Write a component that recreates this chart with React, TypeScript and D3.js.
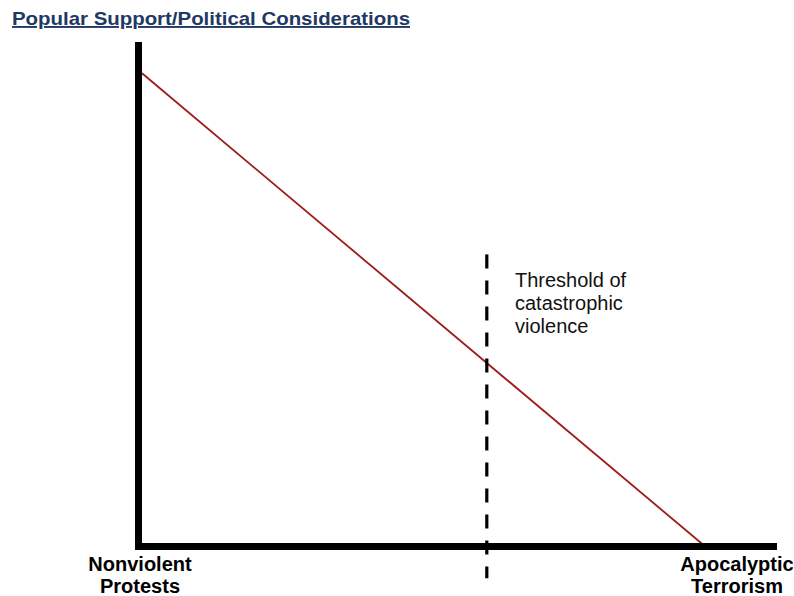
import React, { useEffect, useRef } from "react";
import * as d3 from "d3";

// spectrum end labels (left -> right)
const leftLabel: string[] = ["Nonviolent", "Protests"];
const rightLabel: string[] = ["Apocalyptic", "Terrorism"];
const thresholdLabel: string[] = ["Threshold of", "catastrophic", "violence"];

// support line: position on spectrum (0-100) vs popular support (0-100)
const supportX: number[] = [0, 88.7];
const supportY: number[] = [93.8, 0];

// threshold position and vertical extent
const thresholdX = 54.3;
const thresholdSpan: number[] = [-6.3, 57.9];

const title = "Popular Support/Political Considerations";

function App() {
  const ref = useRef<SVGSVGElement>(null);

  useEffect(() => {
    const width = 794;
    const height = 596;
    const svg = d3.select(ref.current).attr("width", width).attr("height", height);
    svg.selectAll("*").remove();

    const x = d3.scaleLinear().domain([0, 100]).range([142, 777]);
    const y = d3.scaleLinear().domain([0, 100]).range([546.5, 42]);

    const font = "Arial, 'Liberation Sans', sans-serif";

    // title
    svg
      .append("text")
      .attr("x", 12)
      .attr("y", 25)
      .attr("font-family", font)
      .attr("font-weight", "bold")
      .attr("font-size", 19)
      .attr("fill", "#1f3864")
      .attr("text-decoration", "underline")
      .attr("textLength", 398)
      .attr("lengthAdjust", "spacingAndGlyphs")
      .text(title);

    // support line
    const line = d3
      .line<number>()
      .x((d) => x(d))
      .y((d, i) => y(supportY[i]));
    svg
      .append("path")
      .datum(supportX)
      .attr("d", line)
      .attr("fill", "none")
      .attr("stroke", "#9e1b1b")
      .attr("stroke-width", 1.8);

    // threshold dashed line
    svg
      .append("line")
      .attr("x1", x(thresholdX))
      .attr("x2", x(thresholdX))
      .attr("y1", y(thresholdSpan[1]))
      .attr("y2", y(thresholdSpan[0]))
      .attr("stroke", "#000")
      .attr("stroke-width", 3.2)
      .attr("stroke-dasharray", "14 12");

    // axes
    svg
      .append("line")
      .attr("x1", x(0) - 3.5)
      .attr("x2", x(0) - 3.5)
      .attr("y1", y(100))
      .attr("y2", y(0) + 3.5)
      .attr("stroke", "#000")
      .attr("stroke-width", 7);
    svg
      .append("line")
      .attr("x1", x(0) - 7)
      .attr("x2", x(100))
      .attr("y1", y(0))
      .attr("y2", y(0))
      .attr("stroke", "#000")
      .attr("stroke-width", 7);

    // end labels
    const addLabel = (lines: string[], cx: number) => {
      svg
        .append("g")
        .selectAll("text")
        .data(lines)
        .join("text")
        .attr("x", cx)
        .attr("y", (d, i) => 571 + i * 22)
        .attr("text-anchor", "middle")
        .attr("font-family", font)
        .attr("font-weight", "bold")
        .attr("font-size", 20)
        .attr("fill", "#000")
        .text((d) => d);
    };
    addLabel(leftLabel, 140);
    addLabel(rightLabel, 737);

    // threshold annotation
    svg
      .append("g")
      .selectAll("text")
      .data(thresholdLabel)
      .join("text")
      .attr("x", 515)
      .attr("y", (d, i) => 287 + i * 23)
      .attr("font-family", font)
      .attr("font-size", 20)
      .attr("fill", "#111")
      .text((d) => d);
  }, []);

  return (
    <div style={{ position: "absolute", left: 0, top: 0, background: "#fff" }}>
      <svg ref={ref} style={{ display: "block" }}></svg>
    </div>
  );
}

export default App;
